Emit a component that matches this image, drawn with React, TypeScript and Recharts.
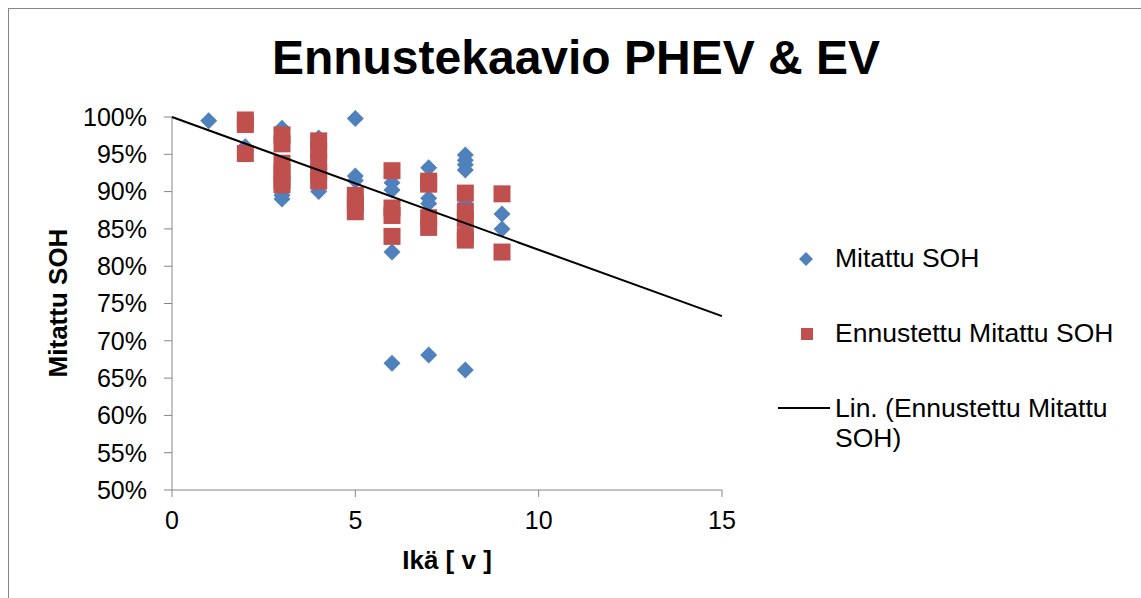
import { ScatterChart, Scatter, XAxis, YAxis } from 'recharts'

// Mitattu SOH (measured), age in years / SOH in %
const measuredAge = [1, 2, 3, 3, 3, 4, 4, 5, 5, 5, 6, 6, 6, 6, 7, 7, 7, 7, 8, 8, 8, 8, 8, 8, 8, 9, 9]
const measuredSoh = [99.5, 96, 98.5, 89.5, 89, 97.2, 90, 99.8, 92.1, 91.5, 91.2, 90.2, 81.9, 67, 93.2, 89.1, 88.4, 68.1, 94.9, 94.2, 93.6, 92.9, 88.4, 85.6, 66.1, 87, 85]

// Ennustettu Mitattu SOH (predicted)
const predictedAge = [2, 2, 2, 3, 3, 3, 3, 3, 3, 4, 4, 4, 4, 4, 5, 5, 5, 6, 6, 6, 6, 7, 7, 7, 7, 8, 8, 8, 8, 8, 9, 9]
const predictedSoh = [99.6, 99, 95.1, 97.6, 96.4, 93.8, 92.6, 91.5, 90.9, 96.8, 95.5, 94, 92.6, 91.4, 89.5, 88.3, 87.3, 92.8, 87.8, 86.8, 84, 91.4, 91, 86.5, 85.2, 89.8, 87.3, 86.3, 84, 83.5, 89.7, 81.9]

// Lin. trend endpoints
const trendAge = [0, 15]
const trendSoh = [100, 73.3]

const xTicks = [0, 5, 10, 15]
const yTicks = [50, 55, 60, 65, 70, 75, 80, 85, 90, 95, 100]

const BLUE = '#4F81BD'
const RED = '#C0504D'
const AXIS = '#868686'
const FONT = '"Liberation Sans", Arial, sans-serif'

const toPoints = (xs: number[], ys: number[]) => xs.map((x, i) => ({ x, y: ys[i] }))
const measured = toPoints(measuredAge, measuredSoh)
const predicted = toPoints(predictedAge, predictedSoh)
const trend = toPoints(trendAge, trendSoh)

function Diamond(props: any) {
  const { cx, cy } = props
  const r = 8.5
  return <polygon points={`${cx},${cy - r} ${cx + r},${cy} ${cx},${cy + r} ${cx - r},${cy}`} fill={BLUE} />
}

function Square(props: any) {
  const { cx, cy } = props
  const s = 17
  return <rect x={cx - s / 2} y={cy - s / 2} width={s} height={s} fill={RED} />
}

const W = 1124
const H = 581

export default function App() {
  const tickStyle = { fontSize: 25, fill: '#000', fontFamily: FONT }
  return (
    <div
      style={{
        position: 'fixed', left: 8, top: 8, width: 1200, height: 700,
        borderLeft: `1px solid ${AXIS}`, borderTop: `1px solid ${AXIS}`,
        fontFamily: FONT, color: '#000', background: '#fff',
      }}
    >
      <div style={{ position: 'absolute', left: 0, width: 1134, top: 25, textAlign: 'center', fontSize: 48, lineHeight: '48px', fontWeight: 700 }}>
        Ennustekaavio PHEV &amp; EV
      </div>

      <ScatterChart width={W} height={H} margin={{ top: 108, right: 411, bottom: 60, left: 63 }}>
        <XAxis
          type="number" dataKey="x" domain={[0, 15]} ticks={xTicks} interval={0}
          stroke={AXIS} tickSize={7} tickMargin={14} height={40} tick={tickStyle}
        />
        <YAxis
          type="number" dataKey="y" domain={[50, 100]} ticks={yTicks} interval={0}
          tickFormatter={(v: number) => `${v}%`}
          stroke={AXIS} tickSize={8} tickMargin={17} width={100} tick={tickStyle}
        />
        <Scatter data={measured} shape={Diamond} isAnimationActive={false} />
        <Scatter data={predicted} shape={Square} isAnimationActive={false} />
        <Scatter
          data={trend} line={{ stroke: '#000', strokeWidth: 2 }} shape={() => <g />}
          isAnimationActive={false}
        />
      </ScatterChart>

      <div style={{ position: 'absolute', left: 438, top: 551, transform: 'translate(-50%, -50%)', fontSize: 26, fontWeight: 700, whiteSpace: 'nowrap' }}>
        Ikä [ v ]
      </div>
      <div style={{ position: 'absolute', left: 49, top: 294, transform: 'translate(-50%, -50%) rotate(-90deg)', fontSize: 26, fontWeight: 700, whiteSpace: 'nowrap' }}>
        Mitattu SOH
      </div>

      <div style={{ position: 'absolute', left: 0, top: 0, fontSize: 26.5 }}>
        <svg style={{ position: 'absolute', left: 787, top: 240 }} width={20} height={20}>
          <polygon points="10,3 17,10 10,17 3,10" fill={BLUE} />
        </svg>
        <div style={{ position: 'absolute', left: 826, top: 234, lineHeight: '30px', whiteSpace: 'nowrap' }}>Mitattu SOH</div>
        <svg style={{ position: 'absolute', left: 788, top: 315 }} width={20} height={20}>
          <rect x={4} y={4} width={12} height={12} fill={RED} />
        </svg>
        <div style={{ position: 'absolute', left: 826, top: 309, lineHeight: '30px', whiteSpace: 'nowrap' }}>Ennustettu Mitattu SOH</div>
        <svg style={{ position: 'absolute', left: 769, top: 389 }} width={54} height={20}>
          <line x1={0} y1={10} x2={52} y2={10} stroke="#000" strokeWidth={2} />
        </svg>
        <div style={{ position: 'absolute', left: 826, top: 384, lineHeight: '30px', whiteSpace: 'nowrap' }}>
          Lin. (Ennustettu Mitattu<br />SOH)
        </div>
      </div>
    </div>
  )
}
